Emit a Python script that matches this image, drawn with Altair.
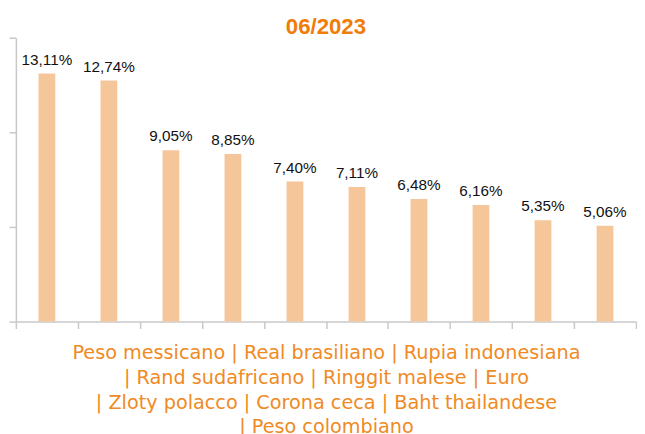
import altair as alt
import pandas as pd

currencies = ["Peso messicano", "Real brasiliano", "Rupia indonesiana", "Rand sudafricano",
              "Ringgit malese", "Euro", "Zloty polacco", "Corona ceca", "Baht thailandese",
              "Peso colombiano"]
values = [13.11, 12.74, 9.05, 8.85, 7.40, 7.11, 6.48, 6.16, 5.35, 5.06]
y_ticks = [0, 5, 10, 15]
title_text = "06/2023"
axis_lines = ["Peso messicano | Real brasiliano | Rupia indonesiana",
              "| Rand sudafricano | Ringgit malese | Euro",
              "| Zloty polacco | Corona ceca | Baht thailandese",
              "| Peso colombiano"]

df = pd.DataFrame({
    "cur": currencies,
    "val": values,
    "lab": [f"{v:.2f}".replace(".", ",") + "%" for v in values],
})

x_enc = alt.X("cur:N", sort=currencies,
              scale=alt.Scale(paddingInner=0, paddingOuter=0),
              axis=alt.Axis(labels=False, tickBand="extent", tickSize=7,
                            domainColor="#C8C8C8", tickColor="#C8C8C8", domainWidth=1.5, tickWidth=1.5,
                            title=axis_lines, titleFont="DejaVu Sans", titleFontSize=19.5,
                            titleFontWeight="normal", titleColor="#F08A24",
                            titleLineHeight=25, titlePadding=15))
y_enc = alt.Y("val:Q", scale=alt.Scale(domain=[0, 15], nice=False),
              axis=alt.Axis(labels=False, values=y_ticks, tickSize=7, grid=False, title=None,
                            domainColor="#C8C8C8", tickColor="#C8C8C8", domainWidth=1.5, tickWidth=1.5))

base = alt.Chart(df)
bars = base.mark_bar(size=17, color="#F6C69B").encode(x=x_enc, y=y_enc)
labels = base.mark_text(baseline="bottom", dy=-6, font="Liberation Sans", fontSize=15.5,
                        color="#111111").encode(x=alt.X("cur:N", sort=currencies), y="val:Q", text="lab:N")

chart = (bars + labels).properties(
    width=629, height=288,
    padding={"left": 0, "top": 5, "right": 0, "bottom": 0},
    title=alt.TitleParams(title_text, font="Liberation Sans", fontSize=22.5, fontWeight="bold",
                          color="#F07D0A", anchor="middle", offset=-2),
).configure_view(stroke=None)

chart.save("out.html", embed_options={"renderer": "svg", "actions": False})
